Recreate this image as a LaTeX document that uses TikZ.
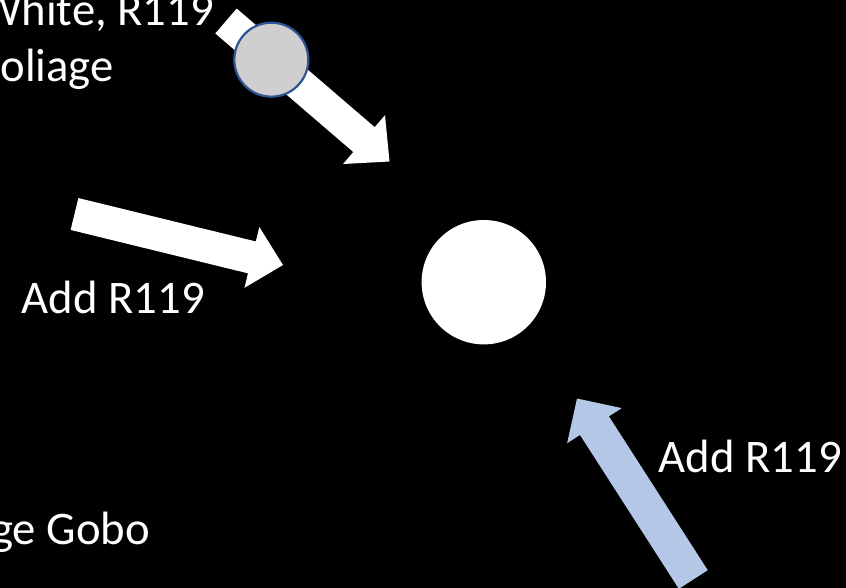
\documentclass[tikz,border=0pt]{standalone}
\usepackage{fontspec}
\setmainfont{Carlito}
\usetikzlibrary{calc}
\definecolor{ltblue}{HTML}{B4C7E7}
\definecolor{dkblue}{HTML}{2F5597}
\definecolor{ltgray}{HTML}{D0CECE}
% #1 tail, #2 tip, #3 shaft half width, #4 head half width, #5 head length, #6 style
\newcommand\blockarrow[6]{%
  \coordinate (#1base) at ($(#2)!#5!(#1)$);
  \fill[#6] ($(#1)!#3!90:(#2)$) -- ($(#1base)!#3!90:(#2)$) -- ($(#1base)!#4!90:(#2)$)
    -- (#2) -- ($(#1base)!#4!-90:(#2)$) -- ($(#1base)!#3!-90:(#2)$)
    -- ($(#1)!#3!-90:(#2)$) -- cycle;
}
\tikzset{
  lbl/.style={text=white, inner sep=0pt, font=\fontsize{46.7}{56}\selectfont},
  wharrow/.style={fill=white},
  blarrow/.style={fill=ltblue},
}
\begin{document}
\begin{tikzpicture}[x=1pt,y=-1pt]
  \useasboundingbox (0,0) rectangle (846,588);
  \fill[black] (0,0) rectangle (846,588);
  \clip (0,0) rectangle (846,588);

  % coordinates for arrows
  \coordinate (topT) at (226,21);
  \coordinate (topP) at (389.5,161.5);
  \coordinate (midT) at (74.5,214);
  \coordinate (midP) at (283,265);
  \coordinate (botT) at (693.3,579.5);
  \coordinate (botP) at (577,398.5);

  \blockarrow{topT}{topP}{16.4pt}{32.2pt}{33.6pt}{wharrow}
  \blockarrow{midT}{midP}{16.4pt}{31.3pt}{32pt}{wharrow}
  \blockarrow{botT}{botP}{17.2pt}{32.5pt}{32.3pt}{blarrow}

  % gray disc on top arrow
  \node[circle, minimum size=74pt, inner sep=0pt, fill=ltgray, draw=dkblue, line width=2.2pt] (gobo) at (271.3,59.7) {};
  % central white disc
  \node[circle, minimum size=124.4pt, inner sep=0pt, fill=white] (spot) at (483.8,282.2) {};

  % labels
  \node[lbl, anchor=base east] (l1) at (214,26) {White, R119};
  \node[lbl, anchor=base east] (l2) at (114,82) {oliage};
  \node[lbl, anchor=base east] (l3) at (205,313) {Add R119};
  \node[lbl, anchor=base east] (l4) at (842,472) {Add R119};
  \node[lbl, anchor=base east] (l5) at (150,544) {ge Gobo};
\end{tikzpicture}
\end{document}
